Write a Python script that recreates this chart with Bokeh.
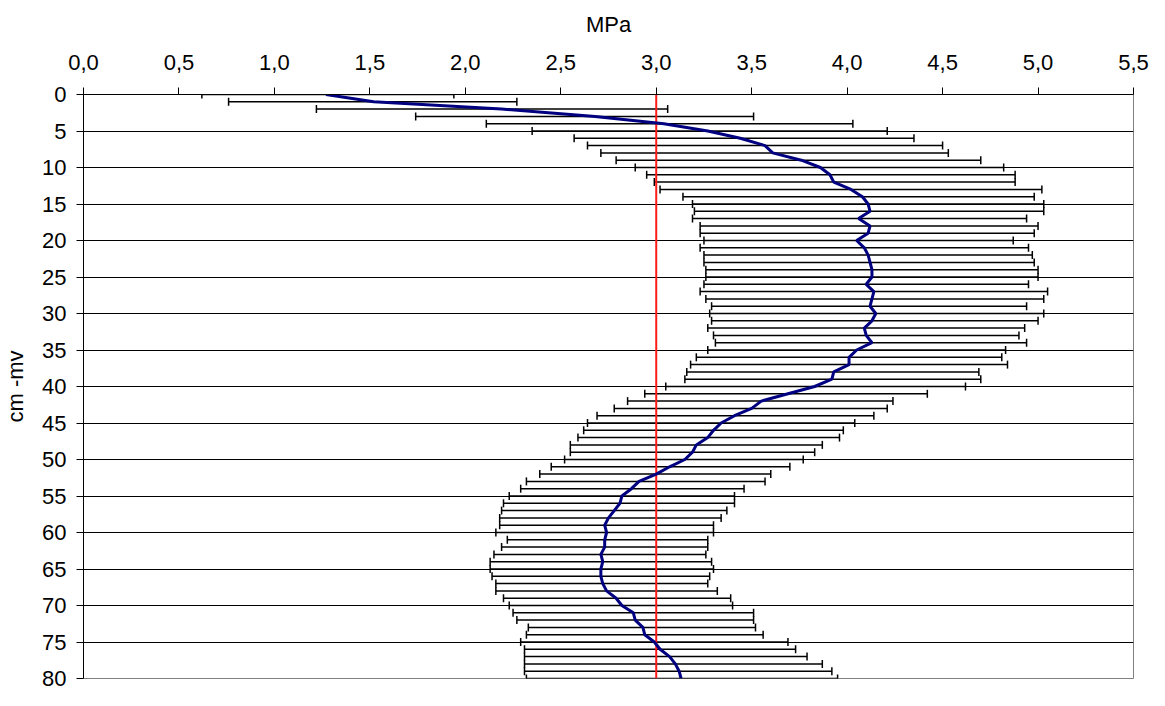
from bokeh.plotting import figure
from bokeh.models import (ColumnDataSource, Whisker, TeeHead, Span, Range1d,
                          FixedTicker, CustomJSTickFormatter)
from bokeh.embed import file_html
from bokeh.resources import INLINE

# ---------------- data ----------------
depth = list(range(81))  # cm below ground level

mean = [1.27, 1.52, 2.19, 2.68, 3.04, 3.27, 3.44, 3.57, 3.61, 3.76,
        3.86, 3.91, 3.93, 4.02, 4.08, 4.11, 4.12, 4.06, 4.12, 4.11,
        4.05, 4.09, 4.11, 4.12, 4.13, 4.13, 4.10, 4.14, 4.13, 4.12,
        4.15, 4.13, 4.09, 4.10, 4.13, 4.05, 4.01, 4.01, 3.93, 3.92,
        3.83, 3.69, 3.55, 3.50, 3.41, 3.34, 3.30, 3.27, 3.21, 3.19,
        3.15, 3.07, 3.00, 2.91, 2.87, 2.82, 2.81, 2.78, 2.75, 2.73,
        2.74, 2.73, 2.73, 2.71, 2.72, 2.71, 2.71, 2.72, 2.74, 2.79,
        2.82, 2.88, 2.89, 2.93, 2.94, 2.99, 3.02, 3.07, 3.10, 3.12,
        3.13]

low = [0.62, 0.76, 1.22, 1.74, 2.11, 2.35, 2.57, 2.64, 2.71, 2.79,
       2.89, 2.95, 2.99, 3.02, 3.14, 3.19, 3.20, 3.19, 3.23, 3.23,
       3.25, 3.23, 3.25, 3.25, 3.26, 3.26, 3.25, 3.23, 3.26, 3.29,
       3.28, 3.29, 3.27, 3.30, 3.31, 3.27, 3.21, 3.18, 3.16, 3.15,
       3.05, 2.94, 2.85, 2.78, 2.69, 2.64, 2.62, 2.59, 2.55, 2.55,
       2.52, 2.45, 2.39, 2.32, 2.29, 2.23, 2.20, 2.19, 2.18, 2.18,
       2.16, 2.22, 2.19, 2.15, 2.13, 2.13, 2.14, 2.16, 2.16, 2.20,
       2.23, 2.25, 2.27, 2.33, 2.32, 2.29, 2.31, 2.31, 2.31, 2.31,
       2.32]

high = [1.94, 2.27, 3.06, 3.51, 4.03, 4.21, 4.35, 4.50, 4.53, 4.70,
        4.82, 4.88, 4.88, 5.02, 4.98, 5.03, 5.03, 4.94, 5.00, 4.98,
        4.87, 4.95, 4.97, 4.98, 5.00, 5.00, 4.95, 5.05, 5.03, 4.94,
        5.03, 5.00, 4.93, 4.90, 4.94, 4.83, 4.81, 4.84, 4.69, 4.70,
        4.62, 4.42, 4.24, 4.21, 4.14, 4.04, 3.98, 3.96, 3.87, 3.83,
        3.77, 3.70, 3.60, 3.57, 3.46, 3.41, 3.41, 3.37, 3.34, 3.30,
        3.30, 3.27, 3.27, 3.26, 3.29, 3.30, 3.28, 3.27, 3.32, 3.39,
        3.40, 3.51, 3.51, 3.52, 3.56, 3.69, 3.73, 3.79, 3.87, 3.92,
        3.95]

threshold = 3.0
x_ticks = [0.0, 0.5, 1.0, 1.5, 2.0, 2.5, 3.0, 3.5, 4.0, 4.5, 5.0, 5.5]
y_ticks = list(range(0, 81, 5))
x_title = "MPa"
y_title = "cm -mv"

# ---------------- figure ----------------
FONT = "Liberation Sans"
FS = "22px"

src = ColumnDataSource(dict(depth=depth, mean=mean, low=low, high=high))

p = figure(width=1149, height=690, output_backend="svg", toolbar_location=None,
           x_range=Range1d(0, 5.5), y_range=Range1d(80, 0),
           x_axis_location="above",
           min_border_left=83, min_border_right=16,
           min_border_top=94, min_border_bottom=12)
p.background_fill_color = "white"
p.border_fill_color = "white"
p.outline_line_color = "#808080"
p.outline_line_width = 1

# grid
p.xgrid.visible = False
p.ygrid.ticker = FixedTicker(ticks=y_ticks)
p.ygrid.grid_line_color = "#000000"
p.ygrid.grid_line_width = 1

# axes
xa = p.xaxis[0]
xa.ticker = FixedTicker(ticks=x_ticks)
xa.formatter = CustomJSTickFormatter(code="return tick.toFixed(1).replace('.', ',');")
xa.axis_label = x_title
ya = p.yaxis[0]
ya.ticker = FixedTicker(ticks=y_ticks)
ya.axis_label = y_title

for ax in (xa, ya):
    ax.major_label_text_font = FONT
    ax.major_label_text_font_size = FS
    ax.major_label_text_color = "black"
    ax.axis_label_text_font = FONT
    ax.axis_label_text_font_size = FS
    ax.axis_label_text_font_style = "normal"
    ax.axis_label_text_color = "black"
    ax.axis_line_color = "black"
    ax.axis_line_width = 1
    ax.major_tick_line_color = "black"
    ax.major_tick_out = 7
    ax.major_tick_in = 0
    ax.minor_tick_line_color = None

xa.major_label_standoff = 18
xa.axis_label_standoff = 15
ya.major_label_standoff = 10
ya.axis_label_standoff = 11

# error bars
wh = Whisker(source=src, base="depth", lower="low", upper="high",
             dimension="width", line_color="black", line_width=1.5,
             lower_head=TeeHead(size=8, line_color="black", line_width=1.5),
             upper_head=TeeHead(size=8, line_color="black", line_width=1.5),
             level="underlay")
p.add_layout(wh)

# threshold line
p.add_layout(Span(location=threshold, dimension="height", line_color="#ff1a1a",
                  line_width=2, level="underlay"))

# mean line
p.line(x="mean", y="depth", source=src, line_color="#000080", line_width=3)

open("out.html", "w").write(file_html(p, INLINE))
